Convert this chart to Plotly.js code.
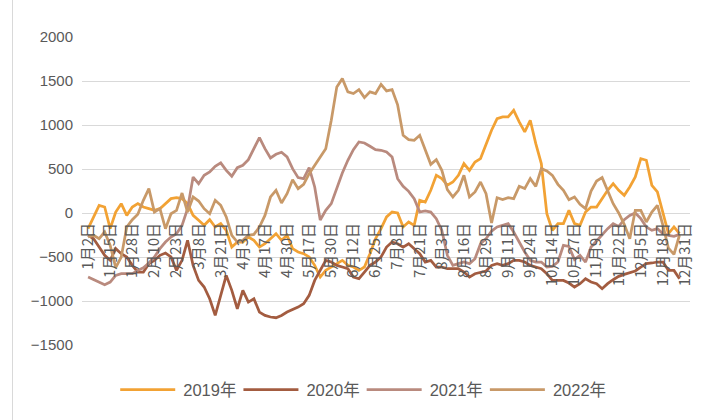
<!DOCTYPE html>
<html>
<head>
<meta charset="utf-8">
<script src="https://cdn.plot.ly/plotly-3.0.1.min.js"></script>
<style>
  html, body { margin: 0; padding: 0; background: #ffffff; }
  #wrap { position: relative; width: 704px; height: 420px; overflow: hidden; }
  #frame { position: absolute; left: 12px; top: 0; width: 1px; height: 420px; background: #D9D9D9; }
  #chart { position: absolute; left: 0; top: 0; width: 704px; height: 420px; }
</style>
</head>
<body>
<div id="wrap">
  <div id="chart"></div>
  <div id="frame"></div>
</div>
<script>
// Category tick labels (every 4th sample)
const tickLabels = ["1月2日","1月15日","1月28日","2月10日","2月23日","3月8日","3月21日","4月3日",
  "4月17日","4月30日","5月17日","5月30日","6月12日","6月25日","7月8日","7月21日","8月3日",
  "8月16日","8月29日","9月11日","9月24日","10月14日","10月27日","11月9日","11月22日",
  "12月5日","12月18日","12月31日"];

const seriesNames = ["2019年","2020年","2021年","2022年"];

const y2019 = [-178,-45,87,68,-178,11,106,-27,68,106,68,49,30,49,106,163,174,163,106,-27,
  -83,-140,-76,-159,-121,-197,-387,-330,-330,-273,-311,-387,-349,-292,-235,-311,-254,-405,-443,-462,
  -500,-595,-728,-652,-614,-576,-538,-595,-614,-652,-614,-462,-292,-178,-45,11,0,-159,-102,-140,
  144,125,258,428,390,315,352,428,561,485,580,618,788,940,1073,1092,1092,1167,1035,921,
  1054,788,561,-8,-197,-121,-121,30,-121,-140,11,68,68,163,258,333,258,201,296,409,
  618,599,315,239,-8,-235,-159,-235];

const y2020 = [-254,-292,-387,-481,-538,-405,-462,-500,-595,-671,-671,-576,-538,-481,-455,-500,-652,-538,-311,-595,
  -766,-841,-974,-1164,-936,-709,-879,-1088,-879,-1012,-974,-1126,-1164,-1182,-1190,-1164,-1126,-1099,-1069,-1031,
  -936,-766,-652,-538,-557,-595,-614,-633,-728,-747,-671,-595,-557,-500,-387,-330,-349,-387,-349,-405,
  -462,-557,-538,-614,-614,-633,-633,-633,-671,-728,-690,-671,-659,-595,-576,-595,-576,-538,-538,-557,
  -595,-614,-633,-690,-766,-766,-766,-796,-841,-803,-747,-784,-803,-860,-803,-758,-720,-697,-678,-659,
  -614,-576,-568,-557,-557,-652,-652,-747];

const y2021 = [-728,-754,-785,-815,-785,-709,-690,-690,-690,-652,-622,-568,-500,-405,-330,-273,-235,-140,49,409,
  333,428,466,531,569,485,417,515,542,606,731,857,731,625,667,690,637,504,402,390,
  515,296,-80,30,106,277,455,599,720,807,796,758,720,713,694,637,390,303,246,163,
  11,23,11,-64,-197,-481,-595,-576,-557,-576,-519,-349,-292,-205,-159,-140,-121,-216,-330,-443,
  -538,-557,-557,-614,-606,-557,-368,-379,-530,-481,-557,-387,-318,-243,-178,-121,-152,-76,-27,0,
  -64,-159,-197,-178,-235,-254,-265,-243];

const y2022 = [-273,-254,-292,-216,-368,-620,-500,-159,-76,-15,144,277,11,49,-178,-8,30,227,11,182,
  136,49,-8,144,87,-45,-254,-330,-311,-254,-243,-159,-27,182,258,114,220,379,277,326,
  447,542,629,731,1054,1433,1527,1376,1357,1402,1311,1376,1357,1463,1387,1402,1230,883,834,826,
  883,720,553,606,485,265,182,258,428,182,239,352,220,-114,174,152,174,163,303,277,
  390,303,504,477,428,326,258,152,182,98,49,250,364,402,250,106,0,-129,-292,30,
  30,-102,11,87,-140,-400,-470,-250];

const colors = ["#F2A234", "#A35C40", "#B98A7E", "#C89968"];

const seriesValues = [y2019, y2020, y2021, y2022];
const xIdx = y2019.map((_, i) => i);
const tickVals = tickLabels.map((_, i) => i * 4);

const traces = seriesValues.map((vals, k) => ({
  type: "scatter",
  mode: "lines",
  name: seriesNames[k],
  x: xIdx,
  y: vals,
  line: { color: colors[k], width: 2.75, shape: "linear" },
  hoverinfo: "skip"
}));

const layout = {
  width: 704,
  height: 420,
  margin: { l: 82, r: 14, t: 37, b: 75 },
  paper_bgcolor: "#ffffff",
  plot_bgcolor: "#ffffff",
  showlegend: true,
  font: { family: "Liberation Sans, Arial, sans-serif", color: "#595959", size: 15 },
  xaxis: {
    type: "linear",
    range: [-1.1, 108.9],
    tickmode: "array",
    tickvals: tickVals,
    ticktext: tickLabels,
    tickangle: -90,
    tickfont: { family: "Noto Sans CJK SC, sans-serif", size: 15, color: "#595959" },
    showgrid: false,
    zeroline: false,
    showline: false,
    ticks: "",
    anchor: "free",
    position: 1500 / 3500,
    ticklabelstandoff: 6,
    automargin: false,
    fixedrange: true
  },
  yaxis: {
    range: [-1500, 2000],
    dtick: 500,
    tick0: 0,
    showgrid: true,
    gridcolor: "#D9D9D9",
    gridwidth: 1,
    zeroline: false,
    showline: false,
    ticks: "",
    ticklabelstandoff: 8,
    tickfont: { family: "Liberation Sans, Arial, sans-serif", size: 15, color: "#595959" },
    automargin: false,
    fixedrange: true
  },
  legend: {
    orientation: "h",
    x: 0.465,
    xanchor: "center",
    y: -0.146,
    yanchor: "middle",
    font: { family: "Liberation Sans, Noto Sans CJK SC, sans-serif", size: 16.5, color: "#595959" },
    itemwidth: 55,
    tracegroupgap: 0,
    bgcolor: "rgba(0,0,0,0)"
  }
};

Plotly.newPlot("chart", traces, layout, { staticPlot: true, displayModeBar: false }).then(() => {
  document.querySelectorAll("#chart .legendlines path").forEach(p => p.setAttribute("d", "M2,0h55"));
});
</script>
</body>
</html>
